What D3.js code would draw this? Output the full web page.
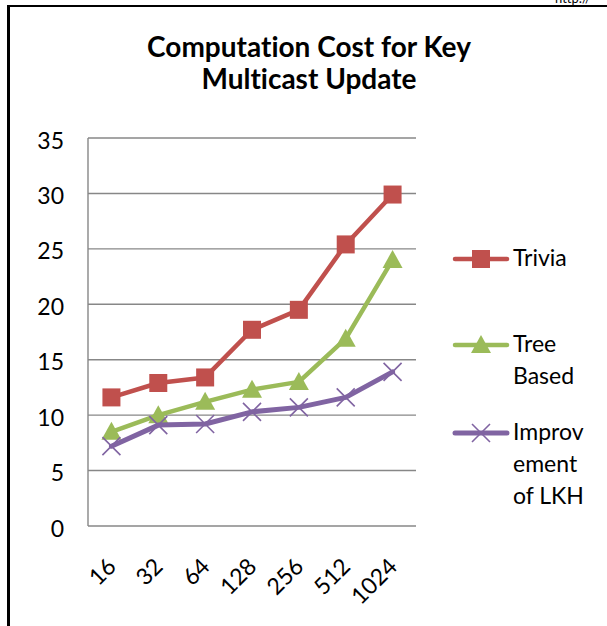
<!DOCTYPE html>
<html>
<head>
<meta charset="utf-8">
<script src="https://cdn.jsdelivr.net/npm/d3@7"></script>
<style>
  html, body { margin: 0; padding: 0; background: #fff; }
  svg { display: block; }
  text { font-family: Lato, "Open Sans", sans-serif; fill: #000; font-variant-ligatures: none; }
</style>
</head>
<body>
<script>
const categories = ["16", "32", "64", "128", "256", "512", "1024"];
const trivia      = [11.6, 12.9, 13.4, 17.7, 19.5, 25.4, 29.9];
const treeBased   = [8.5, 10.0, 11.2, 12.3, 13.0, 16.9, 24.0];
const improvement = [7.2, 9.1, 9.2, 10.3, 10.7, 11.6, 13.9];
const yTicks = [0, 5, 10, 15, 20, 25, 30, 35];
const titleLines = ["Computation Cost for Key", "Multicast Update"];
const seriesNames = [["Trivia"], ["Tree", "Based"], ["Improv", "ement", "of LKH"]];

const W = 607, H = 626;
const svg = d3.select("body").append("svg").attr("width", W).attr("height", H);

// outer frame (partial, as in the crop)
svg.append("line").attr("x1", 8.5).attr("x2", 8.5).attr("y1", 5).attr("y2", H)
  .attr("stroke", "#000").attr("stroke-width", 3);
svg.append("line").attr("x1", 7).attr("x2", W).attr("y1", 6).attr("y2", 6)
  .attr("stroke", "#000").attr("stroke-width", 2);
svg.append("text").attr("x", 555).attr("y", 3).attr("font-size", 13).text("http://");

// title
svg.append("g").selectAll("text").data(titleLines).join("text")
  .attr("x", 309).attr("y", (d, i) => 57 + i * 31.7)
  .attr("text-anchor", "middle").attr("font-weight", "bold").attr("font-size", 28)
  .text(d => d);

const x = d3.scaleBand().domain(categories).range([88, 416]);
const y = d3.scaleLinear().domain([0, 35]).range([526, 138]);
const cx = d => x(d) + x.bandwidth() / 2;

// gridlines
svg.append("g").selectAll("line").data(yTicks.filter(t => t > 0)).join("line")
  .attr("x1", 88).attr("x2", 416).attr("y1", d => y(d)).attr("y2", d => y(d))
  .attr("stroke", "#878787").attr("stroke-width", 1.4);

// axes lines
svg.append("line").attr("x1", 88).attr("x2", 88).attr("y1", y(35)).attr("y2", y(0))
  .attr("stroke", "#878787").attr("stroke-width", 1.4);
svg.append("line").attr("x1", 88).attr("x2", 416).attr("y1", y(0)).attr("y2", y(0))
  .attr("stroke", "#878787").attr("stroke-width", 1.4);

// y tick labels
svg.append("g").selectAll("text").data(yTicks).join("text")
  .attr("x", 64).attr("y", d => y(d) + 1.5)
  .attr("text-anchor", "end").attr("dominant-baseline", "central").attr("font-size", 23)
  .text(d => d);

// x tick labels
svg.append("g").selectAll("text").data(categories).join("text")
  .attr("transform", d => `translate(${cx(d) + 6},${568}) rotate(-45)`)
  .attr("text-anchor", "end").attr("font-size", 23)
  .text(d => d);

const series = [
  { name: seriesNames[0], values: trivia, color: "#C0504D", marker: "square", sw: 4.5 },
  { name: seriesNames[1], values: treeBased, color: "#9BBB59", marker: "triangle", sw: 4.5 },
  { name: seriesNames[2], values: improvement, color: "#8064A2", marker: "x", sw: 5 }
];

function drawMarker(g, m, color) {
  if (m === "square") {
    g.append("rect").attr("x", -9).attr("y", -9).attr("width", 18).attr("height", 18).attr("fill", color);
  } else if (m === "triangle") {
    g.append("path").attr("d", "M0,-10 L10,8 L-10,8 Z").attr("fill", color);
  } else {
    g.append("path").attr("d", "M-9,-9 L9,9 M-9,9 L9,-9").attr("stroke", color).attr("stroke-width", 1.6).attr("fill", "none");
  }
}

const line = d3.line().x(d => cx(d.c)).y(d => y(d.v));
series.forEach(s => {
  const pts = categories.map((c, i) => ({ c, v: s.values[i] }));
  svg.append("path").datum(pts).attr("d", line)
    .attr("fill", "none").attr("stroke", s.color).attr("stroke-width", s.sw)
    .attr("stroke-linejoin", "round").attr("stroke-linecap", "round");
  pts.forEach(p => {
    const g = svg.append("g").attr("transform", `translate(${cx(p.c)},${y(p.v)})`);
    drawMarker(g, s.marker, s.color);
  });
});

// legend
const legendY = [259, 345, 433];
series.forEach((s, i) => {
  const ly = legendY[i];
  svg.append("line").attr("x1", 455).attr("x2", 507).attr("y1", ly).attr("y2", ly)
    .attr("stroke", s.color).attr("stroke-width", s.sw).attr("stroke-linecap", "round");
  const g = svg.append("g").attr("transform", `translate(481,${ly})`);
  drawMarker(g, s.marker, s.color);
  svg.append("g").selectAll("text").data(s.name).join("text")
    .attr("x", 513).attr("y", (d, j) => ly + 7 + j * 32)
    .attr("font-size", 23)
    .text(d => d);
});
</script>
</body>
</html>
